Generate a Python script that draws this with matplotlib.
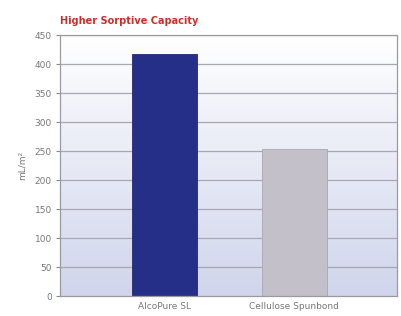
import matplotlib
matplotlib.use("Agg")
import matplotlib.pyplot as plt
import numpy as np
from matplotlib.colors import LinearSegmentedColormap

categories = ["AlcoPure SL", "Cellulose Spunbond"]
values = [417, 254]
colors = ["#262f88", "#c4c0c9"]
yticks = [0, 50, 100, 150, 200, 250, 300, 350, 400, 450]

fig = plt.figure(figsize=(4.01, 3.16), dpi=100)
ax = fig.add_axes([0.150, 0.063, 0.840, 0.826])

x = np.arange(len(categories))

cmap = LinearSegmentedColormap.from_list("bg", ["#d0d5ec", "#ffffff"])
grad = np.linspace(0, 1, 256).reshape(-1, 1)
ax.imshow(grad, aspect="auto", cmap=cmap, extent=[-0.80, 1.79, 0, 450],
          origin="lower", zorder=0)
ax.set_xlim(-0.80, 1.79)
ax.set_ylim(0, 450)

for t in yticks[1:]:
    ax.axhline(t, color="#a8a8b0", linewidth=0.9, zorder=1)

ax.bar(x, values, width=0.5, color=colors, edgecolor=["#20287a", "#aaa6b0"],
       linewidth=0.6, zorder=2)

ax.set_xticks(x)
ax.set_xticklabels(categories, fontsize=6.5, color="#777777")
ax.set_yticks(yticks)
ax.set_yticklabels([str(v) for v in yticks], fontsize=6.5, color="#777777")
ax.tick_params(axis="x", length=0, pad=4)
ax.tick_params(axis="y", length=3, color="#888888", pad=3, direction="out")
ax.set_ylabel("mL/m²", fontsize=6.5, color="#777777", labelpad=6)

for s in ax.spines.values():
    s.set_color("#9a9aa2")
    s.set_linewidth(0.9)

fig.text(0.150, 0.935, "Higher Sorptive Capacity", fontsize=7, fontweight="bold",
         color="#c8302a", ha="left", va="center")

fig.savefig("out.png", dpi=100)
